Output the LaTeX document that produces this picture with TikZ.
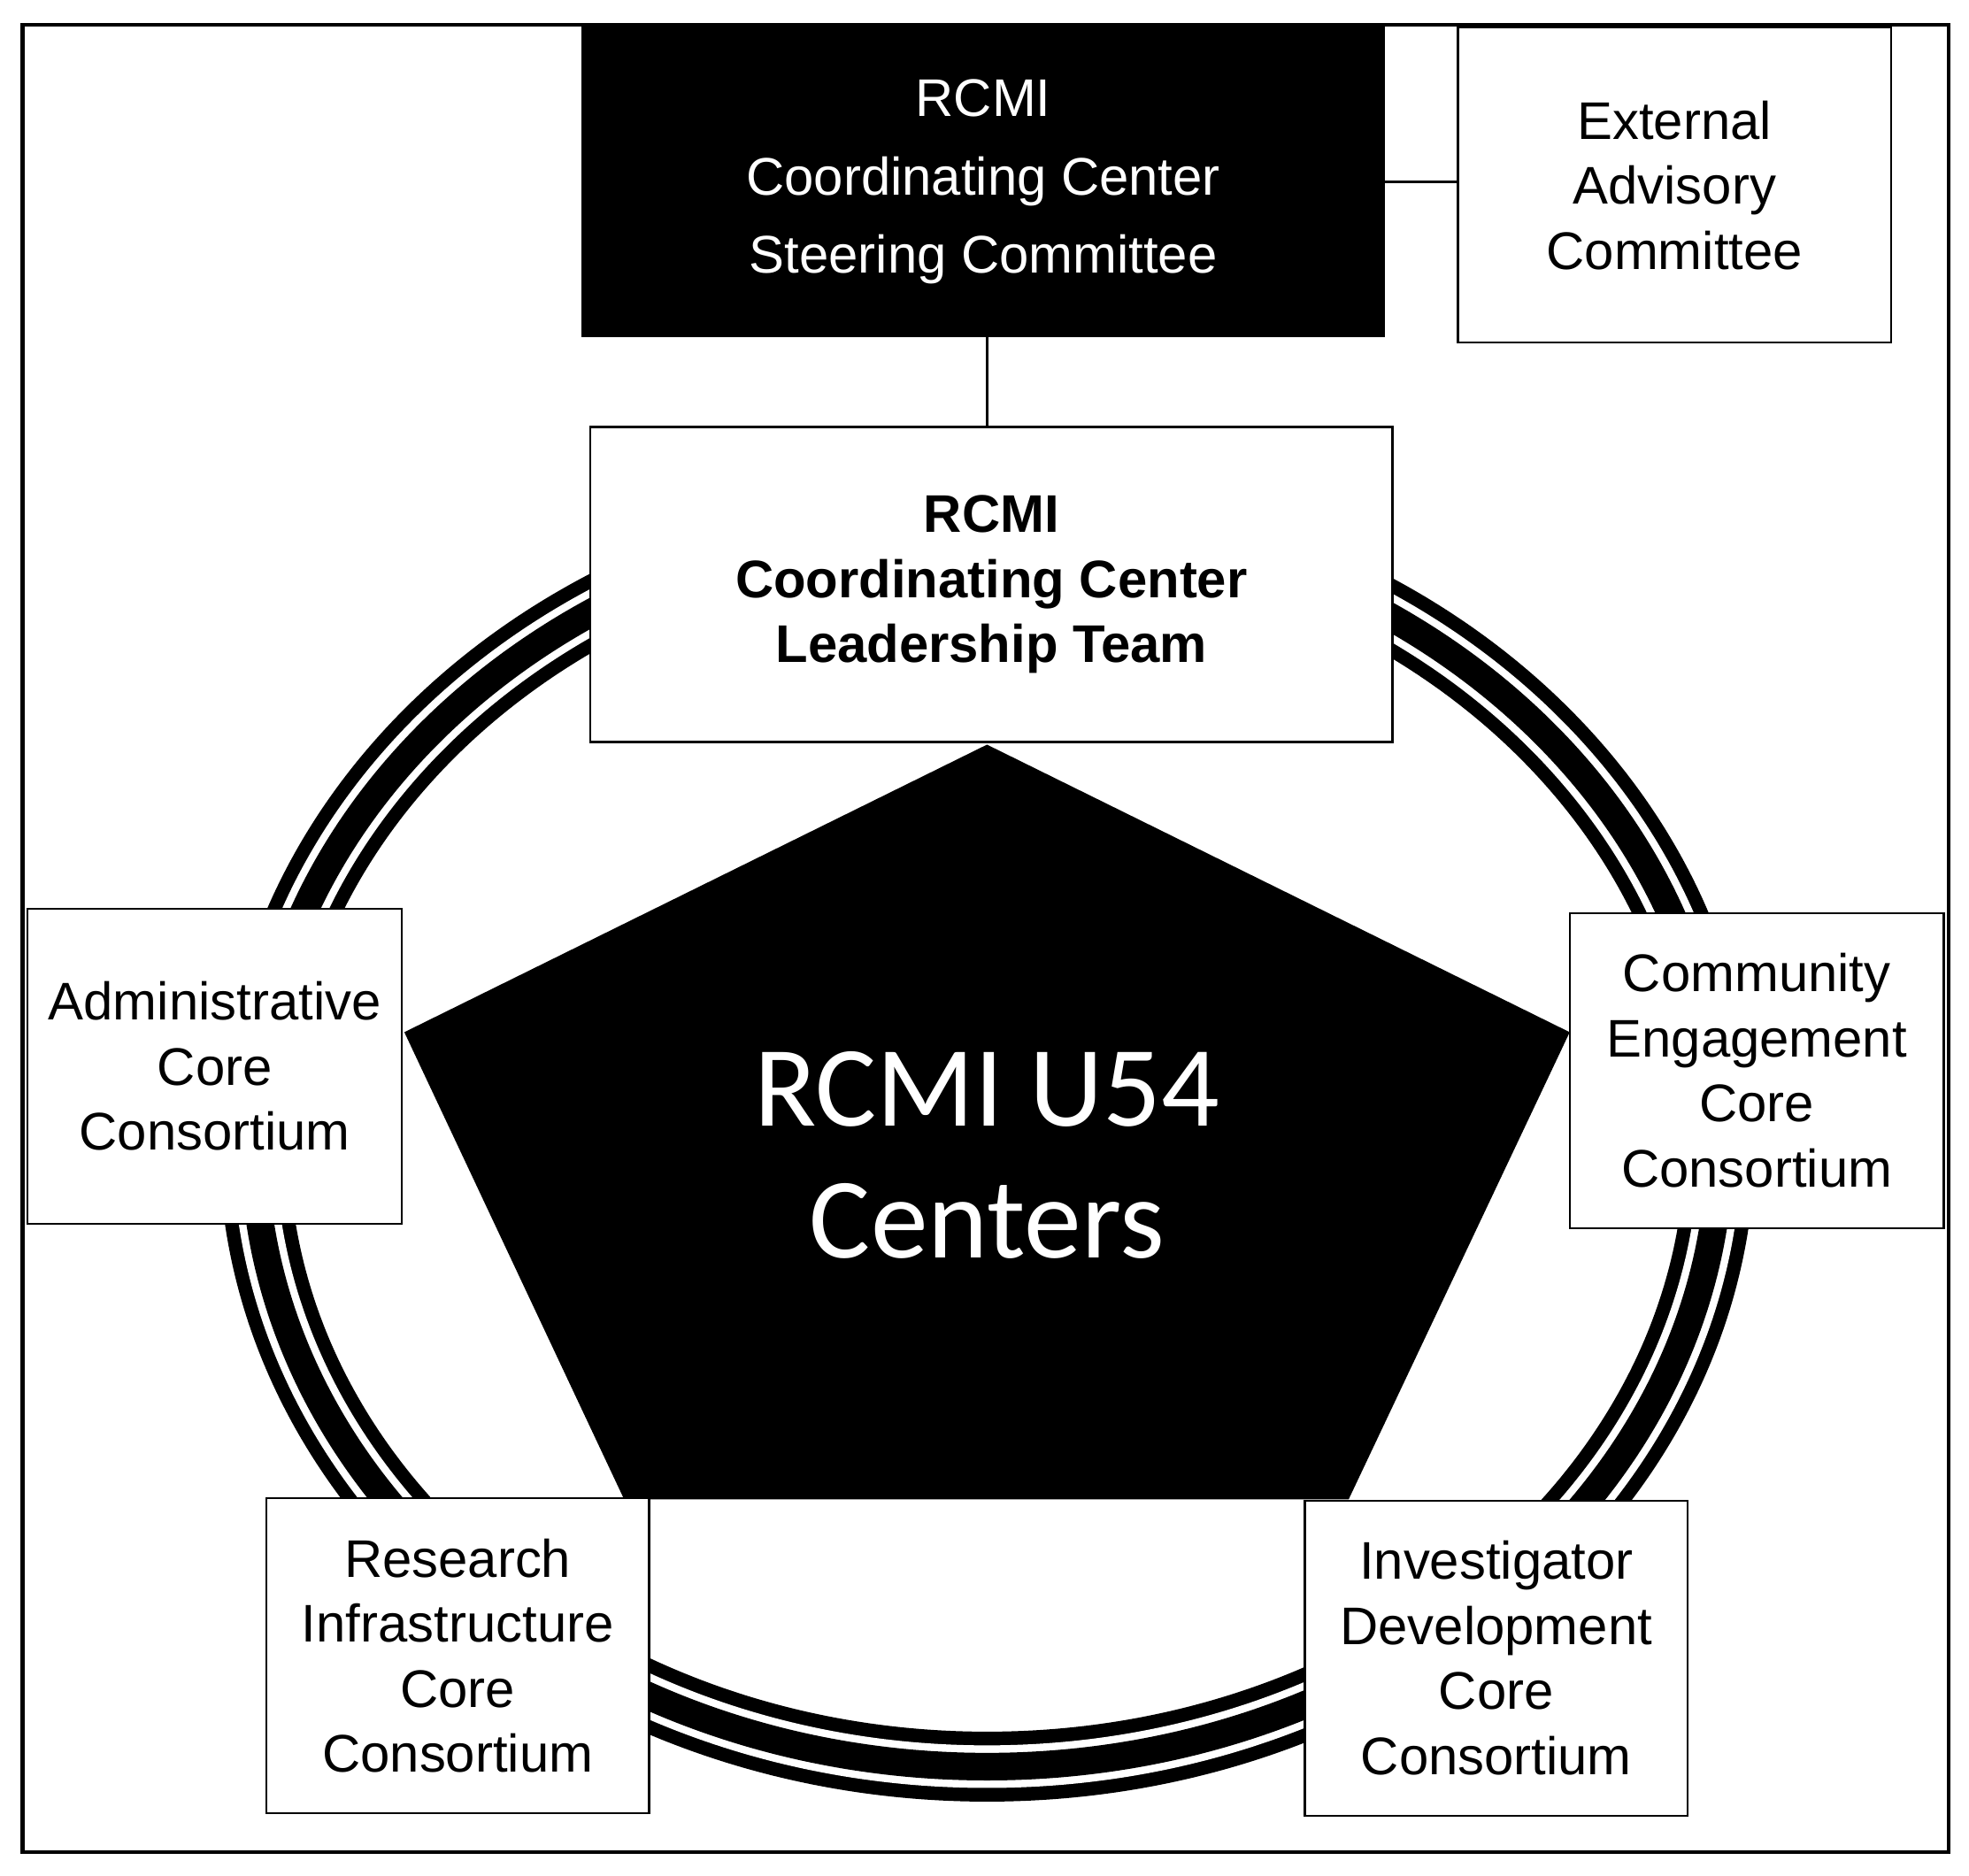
\documentclass[tikz,border=0pt]{standalone}
\usepackage{fontspec}
\setmainfont{Liberation Sans}
\newfontfamily\calib{Carlito}
\begin{document}
\begin{tikzpicture}[x=0.02cm,y=-0.02cm,
  box/.style={draw=black,line width=0.9pt,fill=white,align=center,inner sep=0pt,
    font=\fontsize{24}{29.5}\selectfont,minimum height=5.02cm},
  lnk/.style={line width=1.3pt}]
\useasboundingbox (0,0) rectangle (1568,1494);
\draw[line width=1.7pt] (18,20) rectangle (1552,1475);
% ring
\draw[line width=31.7pt] (786,908) ellipse [x radius=11.68cm, y radius=9.98cm];
\draw[white,line width=19.3pt] (786,908) ellipse [x radius=11.68cm, y radius=9.98cm];
\draw[line width=12.5pt] (786,908) ellipse [x radius=11.68cm, y radius=9.98cm];
% pentagon
\coordinate (p1) at (786,593);
\coordinate (p2) at (1250,822);
\coordinate (p3) at (1074,1194);
\coordinate (p4) at (497,1194);
\coordinate (p5) at (322,822);
\fill[black] (p1) -- (p2) -- (p3) -- (p4) -- (p5) -- cycle;
\node[text=white,align=center,font=\calib\fontsize{52}{60}\selectfont] (u54) at (786,920) {RCMI U54\\Centers};
% boxes
\node[box,fill=black,text=white,minimum width=12.76cm,minimum height=4.92cm] (steer) at (783,145)
  {RCMI\\[6pt]Coordinating Center\\[6pt]Steering Committee};
\node[box,minimum width=6.9cm] (ext) at (1333.5,147.5) {External\\Advisory\\Committee};
\node[box,minimum width=12.78cm,font=\bfseries\fontsize{24}{29.5}\selectfont] (lead) at (789.5,465.5)
  {RCMI\\Coordinating Center\\Leadership Team};
\node[box,minimum width=5.96cm] (adm) at (171,849) {Administrative\\Core\\Consortium};
\node[box,minimum width=5.96cm] (com) at (1399,852.5) {Community\\Engagement\\Core\\Consortium};
\node[box,minimum width=6.1cm] (res) at (364.5,1318.5) {Research\\Infrastructure\\Core\\Consortium};
\node[box,minimum width=6.1cm] (inv) at (1191.5,1320.5) {Investigator\\Development\\Core\\Consortium};
\draw[lnk] (steer.east) -- (ext.west |- steer.east);
\draw[lnk] (steer.south -| lead.north) ++(-3.5,0) -- ++(0,72);
\end{tikzpicture}
\end{document}
